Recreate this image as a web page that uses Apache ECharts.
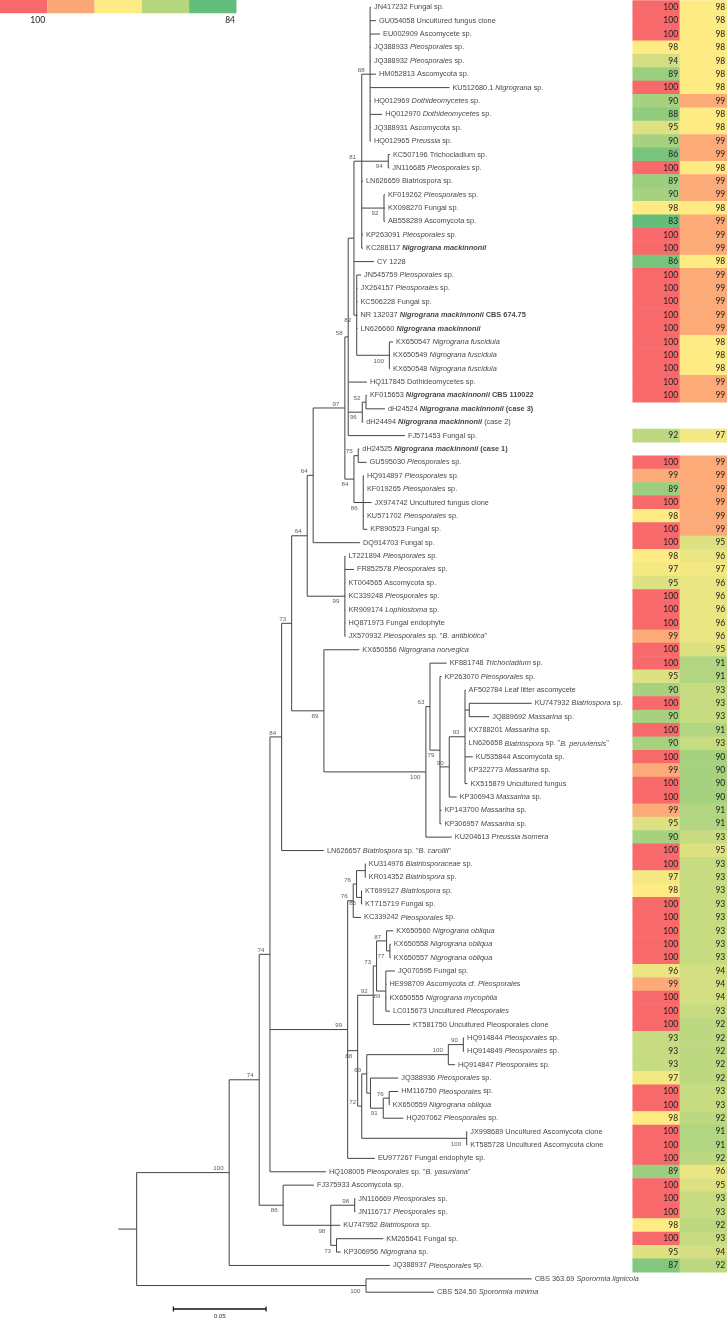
<!DOCTYPE html>
<html><head><meta charset="utf-8">
<script src="https://cdn.jsdelivr.net/npm/echarts@6/dist/echarts.min.js"></script>
<style>html,body{margin:0;padding:0;background:#fff}#c{width:727px;height:1321px}</style>
</head><body><div id="c"></div>
<script>
// ---------- DATA ----------
const leafIds = ["JN417232","GU054058","EU002909","JQ388933","JQ388932","HM052813","KU512680","HQ012969","HQ012970","JQ388931","HQ012965","KC507196","JN116685","LN626659","KF019262","KX098270","AB558289","KP263091","KC288117","CY1228","JN545759","JX264157","KC506228","NR132037","LN626660","KX650547","KX650549","KX650548","HQ117845","KF015653","dH24524","dH24494","FJ571453","dH24525","GU595030","HQ914897","KF019265","JX974742","KU571702","KP890523","DQ914703","LT221894","FR852578","KT004565","KC339248","KR909174","HQ871973","JX570932","KX650556","KF881748","KP263070","AF502784","KU747932","JQ889692","KX788201","LN626658","KU535844","KP322773","KX515879","KP306943","KP143700","KP306957","KU204613","LN626657","KU314976","KR014352","KT699127","KT715719","KC339242","KX650560","KX650558","KX650557","JQ070595","HE998709","KX650555","LC015673","KT581750","HQ914844","HQ914849","HQ914847","JQ388936","HM116750","KX650559","HQ207062","JX998689","KT585728","EU977267","HQ108005","FJ375933","JN116669","JN116717","KU747952","KM265641","KP306956","JQ388937","CBS363","CBS524"];

const leafLabels = ["JN417232 Fungal sp.","GU054058 Uncultured fungus clone","EU002909 Ascomycete sp.","JQ388933 {i|Pleosporales} sp.","JQ388932 {i|Pleosporales} sp.","HM052813 Ascomycota sp.","KU512680.1 {i|Nigrograna} sp.","HQ012969 {i|Dothideomycetes} sp.","HQ012970 {i|Dothideomycetes} sp.","JQ388931 Ascomycota sp.","HQ012965 {i|Preussia} sp.","KC507196 Trichocladium sp.","JN116685 {i|Pleosporales} sp.","LN626659 Biatriospora sp.","KF019262 {i|Pleosporales} sp.","KX098270 Fungal sp.","AB558289 Ascomycota sp.","KP263091 {i|Pleosporales} sp.","KC288117 {bi|Nigrograna mackinnonii}","CY 1228","JN545759 {i|Pleosporales} sp.","JX264157 {i|Pleosporales} sp.","KC506228 Fungal sp.","NR 132037 {bi|Nigrograna mackinnonii} {b|CBS 674.75}","LN626660 {bi|Nigrograna mackinnonii}","KX650547 {i|Nigrograna fuscidula}","KX650549 {i|Nigrograna fuscidula}","KX650548 {i|Nigrograna fuscidula}","HQ117845 Dothideomycetes sp.","KF015653 {bi|Nigrograna mackinnonii} {b|CBS 110022}","dH24524 {bi|Nigrograna mackinnonii} {b|(case 3)}","dH24494 {bi|Nigrograna mackinnonii} (case 2)","FJ571453 Fungal sp.","dH24525 {bi|Nigrograna mackinnonii} {b|(case 1)}","GU595030 {i|Pleosporales} sp.","HQ914897 {i|Pleosporales} sp.","KF019265 {i|Pleosporales} sp.","JX974742 Uncultured fungus clone","KU571702 {i|Pleosporales} sp.","KP890523 Fungal sp.","DQ914703 Fungal sp.","LT221894 {i|Pleosporales} sp.","FR852578 {i|Pleosporales} sp.","KT004565 Ascomycota sp.","KC339248 {i|Pleosporales} sp.","KR909174 {i|Lophiostoma} sp.","HQ871973 Fungal endophyte","JX570932 {i|Pleosporales} sp. \"{i|B. antibiotica}\"","KX650556 {i|Nigrograna norvegica}","KF881748 {i|Trichocladium} sp.","KP263070 {i|Pleosporales} sp.","AF502784 Leaf litter ascomycete","KU747932 {i|Biatriospora} sp.","JQ889692 {i|Massarina} sp.","KX788201 {i|Massarina} sp.","LN626658 {i|Biatriospora} sp. \"{i|B. peruviensis}\"","KU535844 Ascomycota sp.","KP322773 {i|Massarina} sp.","KX515879 Uncultured fungus","KP306943 {i|Massarina} sp.","KP143700 {i|Massarina} sp.","KP306957 {i|Massarina} sp.","KU204613 {i|Preussia isomera}","LN626657 {i|Biatriospora} sp. \"{i|B. carollii}\"","KU314976 {i|Biatriosporaceae} sp.","KR014352 {i|Biatriospora} sp.","KT699127 {i|Biatriospora} sp.","KT715719 Fungal sp.","KC339242 {i|Pleosporales} sp.","KX650560 {i|Nigrograna obliqua}","KX650558 {i|Nigrograna obliqua}","KX650557 {i|Nigrograna obliqua}","JQ070595 Fungal sp.","HE998709 Ascomycota cf. {i|Pleosporales}","KX650555 {i|Nigrograna mycophila}","LC015673 Uncultured {i|Pleosporales}","KT581750 Uncultured Pleosporales clone","HQ914844 {i|Pleosporales} sp.","HQ914849 {i|Pleosporales} sp.","HQ914847 {i|Pleosporales} sp.","JQ388936 {i|Pleosporales} sp.","HM116750 {i|Pleosporales} sp.","KX650559 {i|Nigrograna obliqua}","HQ207062 {i|Pleosporales} sp.","JX998689 Uncultured Ascomycota clone","KT585728 Uncultured Ascomycota clone","EU977267 Fungal endophyte sp.","HQ108005 {i|Pleosporales} sp. \"{i|B. yasuniana}\"","FJ375933 Ascomycota sp.","JN116669 {i|Pleosporales} sp.","JN116717 {i|Pleosporales} sp.","KU747952 {i|Biatriospora} sp.","KM265641 Fungal sp.","KP306956 {i|Nigrograna} sp.","JQ388937 {i|Pleosporales} sp.","CBS 363.69 {i|Sporormia lignicola}","CBS 524.50 {i|Sporormia minima}"];

const identityA = [100,100,100,98,94,89,100,90,88,95,90,86,100,89,90,98,83,100,100,86,100,100,100,100,100,100,100,100,100,100,null,null,92,null,100,99,89,100,98,100,100,98,97,95,100,100,100,99,100,100,95,90,100,90,100,90,100,99,100,100,99,95,90,100,100,97,98,100,100,100,100,100,96,99,100,100,100,93,93,93,97,100,100,98,100,100,100,89,100,100,100,98,100,95,87,null,null];
const identityB = [98,98,98,98,98,98,98,99,98,98,99,99,98,99,99,98,99,99,99,98,99,99,99,99,99,98,98,98,99,99,null,null,97,null,99,99,99,99,99,99,95,96,97,96,96,96,96,96,95,91,91,93,93,93,91,93,90,90,90,90,91,91,93,95,93,93,93,93,93,93,93,93,94,94,94,93,92,92,92,92,92,93,93,92,91,91,92,96,95,93,93,92,93,94,92,null,null];

// Newick tree: branch lengths in substitutions per site, internal labels = bootstrap support
const treeNewick = "((((((((((((((((JN417232:0.0005,GU054058:0.0032,EU002909:0.0054,JQ388933:0.0005,JQ388932:0.0005,HM052813:0.0032,KU512680:0.0428,HQ012969:0.0005,HQ012970:0.0065,JQ388931:0.0005,HQ012965:0.0005)88:0.0045,(KC507196:0.0009,JN116685:0.0006)94:0.0143,LN626659:0.0007,(KF019262:0.0005,KX098270:0.0005,AB558289:0.0005)92:0.0120,KP263091:0.0007,KC288117:0.0007)81:0.0042,CY1228:0.0108,(JN545759:0.0023,JX264157:0.0004,KC506228:0.0004,NR132037:0.0004,LN626660:0.0004,(KX650547:0.0020,KX650549:0.0004,KX650548:0.0004)100:0.0176)82:0.0015):0.0031,HQ117845:0.0101,((KF015653:0.0005,dH24524:0.0102)52:0.0020,dH24494:0.0005)96:0.0076,FJ571453:0.0306)58:0.0018,((dH24525:0.0006,GU595030:0.0045)75:0.0023,(HQ914897:0.0004,KF019265:0.0004,JX974742:0.0045,KU571702:0.0004,KP890523:0.0022)86:0.0050)84:0.0049)97:0.0171,DQ914703:0.0252)64:0.0032,(LT221894:0.0003,FR852578:0.0049,KT004565:0.0003,KC339248:0.0003,KR909174:0.0003,HQ871973:0.0003,JX570932:0.0003)99:0.0203)64:0.0084,(KX650556:0.0191,((KF881748:0.0090,(KP263070:0.0008,((AF502784:0.0003,(KU747932:0.0337,JQ889692:0.0108):0.0023,KX788201:0.0003,LN626658:0.0003,KU535844:0.0042,KP322773:0.0003,KX515879:0.0013)93:0.0085,KP306943:0.0040)90:0.0050,KP143700:0.0008,KP306957:0.0008)79:0.0054)63:0.0022,KU204613:0.0140)100:0.0550)89:0.0174)73:0.0054,LN626657:0.0228)84:0.0063,((((KU314976:0.0003,KR014352:0.0003):0.0047,(KT699127:0.0003,KT715719:0.0003)85:0.0027)76:0.0018,KC339242:0.0042)76:0.0030,((((KX650560:0.0036,(KX650558:0.0005,KX650557:0.0005)77:0.0018)87:0.0054,(JQ070595:0.0049,HE998709:0.0003,KX650555:0.0003,LC015673:0.0022)89:0.0050)73:0.0018,KT581750:0.0198)92:0.0084,((((HQ914844:0.0004,HQ914849:0.0004)90:0.0081,HQ914847:0.0036)100:0.0440,(JQ388936:0.0150,((HM116750:0.0049,KX650559:0.0003)76:0.0032,HQ207062:0.0108)91:0.0069):0.0020)69:0.0027,(JX998689:0.0003,KT585728:0.0003)100:0.0566)72:0.0022)88:0.0054,EU977267:0.0147)99:0.0419,HQ108005:0.0302)74:0.0058,(FJ375933:0.0166,((JN116669:0.0003,JN116717:0.0003)98:0.0129,KU747952:0.0051,(KM265641:0.0252,KP306956:0.0023)73:0.0031)98:0.0257)86:0.0129)74:0.0162,JQ388937:0.0867)100:0.0499,(CBS363:0.0894,CBS524:0.0367)100:0.1237):0.0099;";

// clades (first|last leaf) whose support value sits below the branch
const supportBelow = ["KC507196|JN116685","KF019262|AB558289","JN545759|KX650548","KX650547|KX650548","KF015653|dH24494","dH24525|KP890523","HQ914897|KP890523","LT221894|JX570932","KX650556|KU204613","KF881748|KU204613","KP263070|KP306957","KT699127|KT715719","KX650558|KX650557","JQ070595|LC015673","KX650560|KT585728","HM116750|HQ207062","JX998689|KT585728","FJ375933|KP306956","JN116669|KP306956","KM265641|KP306956","CBS363|CBS524"];

const colourStops = [[84,'#63BE7B'],[98,'#FFEB84'],[100,'#F8696B']];
const legendColours = ['#F8696B','#FBA877','#FFEB84','#B3D67F','#63BE7B'];
const legendLabels = ['100','84'];
const scaleBarStart = 0.0297, scaleBarLength = 0.05, scaleBarLabel = '0.05';

// ---------- BUILD ----------
function parseNewick(s){
  let i=0;
  function node(){
    const n={children:[],name:'',len:0};
    if(s[i]==='('){ i++; n.children.push(node()); while(s[i]===','){ i++; n.children.push(node()); } i++; }
    let name=''; while(i<s.length && ':,);'.indexOf(s[i])<0) name+=s[i++];
    n.name=name;
    if(s[i]===':'){ i++; let num=''; while(i<s.length && ',);'.indexOf(s[i])<0) num+=s[i++]; n.len=parseFloat(num); }
    return n;
  }
  return node();
}
const rowOf={}; leafIds.forEach((id,i)=>rowOf[id]=i);
const tree=parseNewick(treeNewick);
const segs=[], tips=[], supA=[], supB=[];
function layout(n, px){
  n.x = px + n.len;
  if(!n.children.length){ n.y=rowOf[n.name]; n.first=n.last=n.name; tips.push([n.x,n.y,n.y]); }
  else{
    n.children.forEach(c=>layout(c,n.x));
    const f=n.children[0], l=n.children[n.children.length-1];
    n.y=(f.y+l.y)/2; n.first=f.first; n.last=l.last;
    segs.push([n.x,f.y,n.x,l.y]);
    if(n.name){ (supportBelow.indexOf(n.first+'|'+n.last)>=0?supB:supA).push([n.x,n.y,n.name]); }
  }
  segs.push([px,n.y,n.x,n.y]);
}
layout(tree,0);

function colourFor(v){
  if(v<=colourStops[0][0]) return colourStops[0][1];
  for(let k=1;k<colourStops.length;k++){
    const a=colourStops[k-1], b=colourStops[k];
    if(v<=b[0]) return echarts.color.lerp((v-a[0])/(b[0]-a[0]),[a[1],b[1]]);
  }
  return colourStops[colourStops.length-1][1];
}
const heatColours=[]; for(let v=83; v<=100; v++) heatColours.push(colourFor(v));
const heatData=[];
leafIds.forEach((id,r)=>{
  if(identityA[r]!=null) heatData.push([0,r,identityA[r]]);
  if(identityB[r]!=null) heatData.push([1,r,identityB[r]]);
});

const FONT='Liberation Sans';
const TXT=7.35, LH=9;
const rich={
  n:{fontSize:TXT,fontFamily:FONT,color:'#111',lineHeight:LH,verticalAlign:'middle'},
  i:{fontStyle:'italic',fontSize:TXT,fontFamily:FONT,color:'#111',lineHeight:LH,verticalAlign:'middle'},
  b:{fontWeight:'bold',fontSize:TXT,fontFamily:FONT,color:'#111',lineHeight:LH,verticalAlign:'middle'},
  bi:{fontStyle:'italic',fontWeight:'bold',fontSize:TXT,fontFamily:FONT,color:'#111',lineHeight:LH,verticalAlign:'middle'}
};
// wrap untagged text pieces in the plain style so every token shares one baseline
function toRich(s){
  const out=[]; const re=/\{(\w+)\|([^}]*)\}/g; let last=0, m;
  while((m=re.exec(s))){ if(m.index>last) out.push('{n|'+s.slice(last,m.index)+'}'); out.push(m[0]); last=re.lastIndex; }
  if(last<s.length) out.push('{n|'+s.slice(last)+'}');
  return out.join('');
}

const chart=echarts.init(document.getElementById('c'));
chart.setOption({
  animation:false,
  backgroundColor:'#fff',
  grid:[
    {left:118.3, right:108.1, top:0.6, bottom:2},
    {left:632.7, right:0, top:0.6, bottom:22.1}
  ],
  xAxis:[
    {type:'value', gridIndex:0, min:0, max:0.27, show:false},
    {type:'category', gridIndex:1, data:['A','B'], show:false}
  ],
  yAxis:[
    {type:'value', gridIndex:0, min:-0.5, max:98, inverse:true, show:false},
    {type:'category', gridIndex:1, data:leafIds, inverse:true, show:false}
  ],
  visualMap:{type:'continuous', min:83, max:100, dimension:2, seriesIndex:4, show:false, inRange:{color:heatColours}},
  graphic:[
    ...legendColours.map((c,k)=>({type:'rect', shape:{x:k*47.27, y:0, width:47.4, height:13.3}, style:{fill:c}})),
    {type:'text', style:{text:legendLabels[0], x:37.7, y:20, align:'center', verticalAlign:'middle', fontSize:8.5, fontFamily:'Lato', fill:'#222'}},
    {type:'text', style:{text:legendLabels[1], x:235, y:20, align:'right', verticalAlign:'middle', fontSize:8.5, fontFamily:'Lato', fill:'#222'}}
  ],
  series:[
    {type:'custom', xAxisIndex:0, yAxisIndex:0, data:segs, encode:{x:[0,2], y:[1,3]}, silent:true,
     renderItem:(p,api)=>{const a=api.coord([api.value(0),api.value(1)]), b=api.coord([api.value(2),api.value(3)]);
       return {type:'line', shape:{x1:a[0],y1:a[1],x2:b[0],y2:b[1]}, style:{stroke:'#444',lineWidth:1}};}},
    {type:'scatter', xAxisIndex:0, yAxisIndex:0, data:tips, symbolSize:1, itemStyle:{color:'rgba(0,0,0,0)'}, silent:true,
     label:{show:true, position:'right', distance:2.5, formatter:p=>toRich(leafLabels[p.value[2]]), fontSize:TXT, lineHeight:LH, fontFamily:FONT, color:'#111', rich:rich}},
    {type:'scatter', xAxisIndex:0, yAxisIndex:0, data:supA, symbolSize:1, itemStyle:{color:'rgba(0,0,0,0)'}, silent:true,
     label:{show:true, position:'left', distance:5, offset:[0,-4], formatter:p=>p.value[2], fontSize:6.2, fontFamily:FONT, color:'#333'}},
    {type:'scatter', xAxisIndex:0, yAxisIndex:0, data:supB, symbolSize:1, itemStyle:{color:'rgba(0,0,0,0)'}, silent:true,
     label:{show:true, position:'left', distance:5, offset:[0,5.5], formatter:p=>p.value[2], fontSize:6.2, fontFamily:FONT, color:'#333'}},
    {type:'heatmap', xAxisIndex:1, yAxisIndex:1, data:heatData, silent:true,
     label:{show:true, position:'insideRight', distance:2, formatter:p=>p.value[2], fontSize:8.5, fontFamily:'Lato', color:'#222'},
     emphasis:{disabled:true}},
    {type:'custom', xAxisIndex:0, yAxisIndex:0, data:[[scaleBarStart, scaleBarStart+scaleBarLength, 97.25]], encode:{x:[0,1], y:2}, silent:true,
     renderItem:(p,api)=>{const a=api.coord([api.value(0),api.value(2)]), b=api.coord([api.value(1),api.value(2)]);
       return {type:'group', children:[
         {type:'line', shape:{x1:a[0],y1:a[1],x2:b[0],y2:b[1]}, style:{stroke:'#111',lineWidth:1.5}},
         {type:'line', shape:{x1:a[0],y1:a[1]-2.5,x2:a[0],y2:a[1]+2.5}, style:{stroke:'#111',lineWidth:1.2}},
         {type:'line', shape:{x1:b[0],y1:b[1]-2.5,x2:b[0],y2:b[1]+2.5}, style:{stroke:'#111',lineWidth:1.2}},
         {type:'text', style:{text:scaleBarLabel, x:(a[0]+b[0])/2, y:a[1]+4, align:'center', verticalAlign:'top', fontSize:6.2, fontFamily:FONT, fill:'#333'}}
       ]};}}
  ]
});
</script></body></html>
